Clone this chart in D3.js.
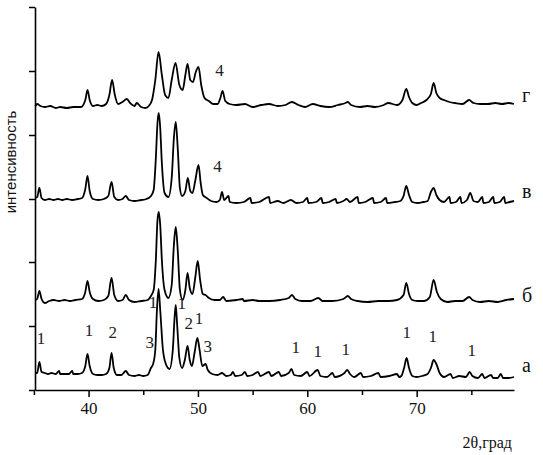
<!DOCTYPE html>
<html><head><meta charset="utf-8">
<script src="https://cdn.jsdelivr.net/npm/d3@7"></script>
<style>
html,body{margin:0;padding:0;background:#fff;}
svg{display:block;}
</style>
</head><body>
<svg id="chart" width="543" height="455"></svg>
<script>
// ---------- DATA ----------
const xMajorTicks = [40, 50, 60, 70];
const xMinorTicks = [35, 45, 55, 65, 75];
const yTicks = [0, 64, 128, 191, 255, 319, 383];
const xTitle = "2θ,град";
const yTitle = "интенсивность";
const seriesNames = ["а", "б", "в", "г"];
// baseline offset of each stacked pattern (intensity units)
const seriesOffsets = [14, 89, 187, 284];
// vertical level of series names (intensity units)
const seriesLabelLevels = [18, 88, 192, 288];

// pattern а : [2θ, relative intensity]
const seriesA = [
[35.13,3],[35.3,3],[35.5,14],[35.7,4],[36.0,3],[36.3,2],[36.6,3],[37.0,2],[37.3,5],[37.4,2],
[37.8,2],[38.2,2],[38.5,5],[38.6,2],[39.0,2],[39.4,3],[39.7,10],[39.9,22],[40.1,10],[40.4,2],
[40.8,1],[41.2,1],[41.6,2],[41.9,8],[42.1,23],[42.3,8],[42.6,1],[43.0,1],[43.4,5],[43.7,1],
[44.2,0],[44.6,1],[45.0,0],[45.4,1],[45.7,8],[45.9,12],[46.1,26],[46.25,66],[46.4,87],[46.55,66],
[46.8,26],[47.1,11],[47.4,7],[47.7,26],[47.85,56],[47.97,71],[48.1,51],[48.3,18],[48.55,8],[48.8,16],
[49.05,30],[49.25,16],[49.45,10],[49.7,24],[49.95,38],[50.15,26],[50.4,10],[50.7,12],[50.9,6],[51.3,2],
[51.8,1],[52.2,3],[52.6,0],[53.0,1],[53.2,4],[53.4,0],[54.0,1],[54.3,4],[54.5,0],[55.0,1],
[55.5,4],[55.7,0],[56.5,4],[56.7,0],[57.4,4],[57.6,0],[58.3,3],[58.55,7],[58.8,1],[59.4,0],
[60.0,4],[60.2,0],[60.95,6],[61.2,0],[61.8,-1],[62.3,3],[62.5,-1],[63.4,3],[63.65,6],[63.9,2],
[64.3,-1],[64.9,3],[65.1,-1],[65.8,0],[66.5,3],[66.7,-1],[67.5,0],[68.2,2],[68.4,-1],[68.6,0],
[68.85,8],[69.08,18],[69.3,8],[69.6,0],[70.0,-1],[70.5,0],[71.0,2],[71.3,8],[71.55,16],[71.8,12],
[72.1,3],[72.5,-1],[73.1,2],[73.3,-2],[73.9,0],[74.5,-1],[74.85,4],[75.1,0],[75.6,-2],[76.0,2],
[76.2,-2],[76.8,1],[77.0,-2],[77.4,-2],[77.7,2],[77.9,-2],[78.4,-2],[78.9,-1]
];
// pattern б
const seriesB = [
[35.13,1],[35.3,2],[35.5,10],[35.7,2],[36.0,-2],[36.4,0],[36.8,1],[37.3,0],[37.8,1],[38.3,0],
[38.8,1],[39.4,2],[39.7,9],[39.9,20],[40.1,9],[40.4,2],[40.9,0],[41.4,1],[41.8,5],[42.1,23],
[42.35,6],[42.7,0],[43.1,1],[43.4,6],[43.7,1],[44.2,-1],[44.8,0],[45.4,1],[45.7,5],[45.95,11],
[46.15,41],[46.3,81],[46.42,89],[46.55,76],[46.7,41],[46.95,11],[47.3,3],[47.6,16],[47.8,56],[47.97,74],
[48.15,51],[48.35,11],[48.6,1],[48.85,11],[49.05,28],[49.25,13],[49.5,7],[49.75,23],[49.98,40],[50.2,21],
[50.45,7],[50.7,6],[51.0,3],[51.5,1],[52.0,1],[52.3,4],[52.6,0],[53.5,1],[54.1,2],[54.2,0],
[55.0,1],[55.6,0],[56.5,0],[57.5,1],[58.3,3],[58.6,6],[58.9,2],[59.5,0],[60.3,0],[61.0,3],
[61.4,0],[62.3,0],[63.3,2],[63.7,5],[64.0,2],[64.6,0],[65.5,-1],[66.5,0],[67.4,0],[68.2,1],
[68.8,6],[69.05,18],[69.3,7],[69.6,1],[70.1,0],[70.7,0],[71.2,4],[71.55,21],[71.85,9],[72.2,2],
[72.8,-1],[73.5,0],[74.2,0],[74.8,4],[75.1,1],[75.8,-1],[76.6,0],[77.4,-1],[78.2,1],[78.9,2]
];
// pattern в
const seriesC = [
[35.13,5],[35.3,6],[35.5,15],[35.7,5],[36.0,3],[36.4,4],[36.8,3],[37.2,4],[37.6,3],[38.0,4],
[38.5,3],[39.0,4],[39.4,5],[39.7,14],[39.9,27],[40.1,12],[40.4,4],[40.9,3],[41.4,4],[41.8,7],
[42.1,21],[42.35,6],[42.7,3],[43.1,4],[43.4,7],[43.7,3],[44.2,2],[44.8,3],[45.3,4],[45.7,7],
[45.95,13],[46.15,45],[46.3,80],[46.42,90],[46.55,75],[46.7,40],[46.95,10],[47.3,6],[47.6,25],[47.8,65],
[47.97,81],[48.15,55],[48.35,15],[48.55,7],[48.85,12],[49.07,25],[49.3,12],[49.5,10],[49.75,22],[50.05,38],
[50.25,20],[50.45,8],[50.8,5],[51.2,2],[51.7,1],[52.0,3],[52.2,11],[52.4,3],[52.8,7],[52.9,1],
[53.5,0],[54.2,1],[54.8,5],[54.9,0],[55.6,1],[56.5,6],[56.6,0],[57.3,2],[57.8,0],[58.5,3],
[59.0,0],[59.6,1],[60.0,5],[60.1,0],[60.8,1],[61.3,5],[61.4,0],[62.0,1],[62.6,4],[62.7,0],
[63.3,2],[63.6,4],[63.9,1],[64.6,6],[64.7,0],[65.3,1],[66.0,5],[66.1,0],[66.7,1],[67.2,5],
[67.3,0],[68.0,1],[68.5,2],[68.8,7],[69.05,17],[69.3,8],[69.6,1],[70.1,0],[70.6,1],[71.0,2],
[71.3,11],[71.55,15],[71.8,8],[72.1,3],[72.5,1],[73.0,6],[73.1,0],[73.6,1],[74.0,6],[74.1,0],
[74.6,3],[74.9,10],[75.2,2],[75.6,1],[76.0,6],[76.1,0],[76.6,1],[77.0,6],[77.1,0],[77.6,1],
[78.0,6],[78.1,0],[78.5,1],[78.9,2]
];
// pattern г
const seriesD = [
[35.13,0],[35.3,2],[35.6,0],[36.0,-1],[36.5,0],[37.0,-2],[37.4,-1],[38.0,-2],[38.6,-1],[39.3,-1],
[39.7,6],[39.9,16],[40.1,6],[40.4,0],[40.8,1],[41.2,0],[41.6,2],[41.9,11],[42.15,26],[42.4,11],
[42.7,2],[43.1,4],[43.5,7],[43.8,3],[44.2,0],[44.4,3],[44.8,-1],[45.2,-2],[45.5,0],[45.8,6],
[46.1,26],[46.4,54],[46.7,31],[47.0,11],[47.3,8],[47.6,26],[47.95,43],[48.3,21],[48.6,16],[48.85,31],
[49.05,42],[49.3,26],[49.55,24],[49.8,34],[50.05,39],[50.3,21],[50.6,8],[51.0,5],[51.4,2],[51.8,2],
[52.05,8],[52.25,15],[52.5,5],[52.9,2],[53.5,1],[54.3,2],[55.0,-1],[55.8,1],[56.5,2],[57.3,0],
[58.0,1],[58.6,4],[59.2,1],[59.8,-1],[60.5,2],[61.2,0],[62.0,-1],[62.8,1],[63.5,3],[63.7,4],
[64.0,1],[64.8,-1],[65.5,0],[66.2,-1],[67.0,1],[67.4,3],[68.2,1],[68.7,6],[69.05,17],[69.3,9],
[69.6,3],[70.0,1],[70.4,3],[70.9,6],[71.3,12],[71.55,23],[71.8,13],[72.1,8],[72.5,6],[73.0,4],
[73.5,3],[74.2,2],[74.8,6],[75.2,3],[75.8,2],[76.5,2],[77.2,3],[77.8,2],[78.4,3],[78.9,2]
];
const seriesData = [seriesA, seriesB, seriesC, seriesD];

// peak phase markers: [2θ, intensity level, text]
const peakLabels = [
[35.65,52,"1"],[40.03,60,"1"],[42.2,58,"2"],[45.6,48,"3"],[45.88,88,"1"],[48.53,87,"1"],
[49.17,67,"2"],[50.09,72,"1"],[50.9,44,"3"],[58.95,43,"1"],[60.96,39,"1"],[63.52,41,"1"],
[69.1,58,"1"],[71.47,54,"1"],[75.03,40,"1"],[51.97,320,"4"],[51.79,224,"4"]
];

// ---------- CHART ----------
const SERIF = "font-family:'Liberation Serif','Times New Roman',Times,'DejaVu Serif',serif";
const SANS = "font-family:'Liberation Sans',Arial,Helvetica,sans-serif";
const svg = d3.select("#chart");
const x = d3.scaleLinear().domain([35.1, 78.9]).range([35, 514]);
const y = d3.scaleLinear().domain([0, 383]).range([390, 7]);

const line = d3.line().x(d => x(d[0])).y(d => y(d[1])).curve(d3.curveMonotoneX);

seriesData.forEach((s, i) => {
  const pts = s.map(d => [d[0], d[1] + seriesOffsets[i]]);
  svg.append("path")
    .datum(pts)
    .attr("d", line)
    .attr("fill", "none")
    .attr("stroke", "#000")
    .attr("stroke-width", 1.8)
    .attr("stroke-linejoin", "round");
});

// x axis
const gx = svg.append("g").attr("transform", `translate(0,${y(0)})`);
gx.call(d3.axisBottom(x).tickValues(xMajorTicks).tickSize(7).tickSizeOuter(0).tickPadding(5).tickFormat(d3.format("d")));
const gxm = svg.append("g").attr("transform", `translate(0,${y(0)})`);
gxm.call(d3.axisBottom(x).tickValues(xMinorTicks).tickSize(5).tickSizeOuter(0).tickFormat(""));
gxm.select(".domain").remove();

// y axis
const gy = svg.append("g").attr("transform", `translate(${x.range()[0]},0)`);
gy.call(d3.axisLeft(y).tickValues(yTicks).tickSize(6).tickSizeOuter(0).tickFormat(""));

svg.selectAll(".domain").attr("stroke", "#000").attr("stroke-width", 1.6);
svg.selectAll(".tick line").attr("stroke", "#000").attr("stroke-width", 1.5);
gx.attr("font-family", null).attr("font-size", null);
gx.selectAll(".tick text")
  .attr("style", SERIF + ";font-size:17px")
  .attr("fill", "#111");

// series names
seriesNames.forEach((n, i) => {
  svg.append("text")
    .attr("style", SERIF + ";font-size:20px")
    .attr("x", x.range()[1] + 8)
    .attr("y", y(seriesLabelLevels[i]))
    .attr("fill", "#111")
    .text(n);
});

// peak markers
svg.selectAll("text.peak").data(peakLabels).enter().append("text")
  .attr("class", "peak")
  .attr("style", SERIF + ";font-size:17px")
  .attr("x", d => x(d[0]))
  .attr("y", d => y(d[1]))
  .attr("dy", "0.35em")
  .attr("text-anchor", "middle")
  .attr("fill", "#222")
  .text(d => d[2]);

// axis titles
svg.append("text")
  .attr("style", SERIF + ";font-size:16px")
  .attr("x", x.range()[1] - 2).attr("y", 448)
  .attr("text-anchor", "end")
  .attr("fill", "#111")
  .text(xTitle);

svg.append("text")
  .attr("style", SANS + ";font-size:15px")
  .attr("transform", "translate(16,162) rotate(-90)")
  .attr("text-anchor", "middle")
  .attr("fill", "#111")
  .text(yTitle);
</script>
</body></html>
